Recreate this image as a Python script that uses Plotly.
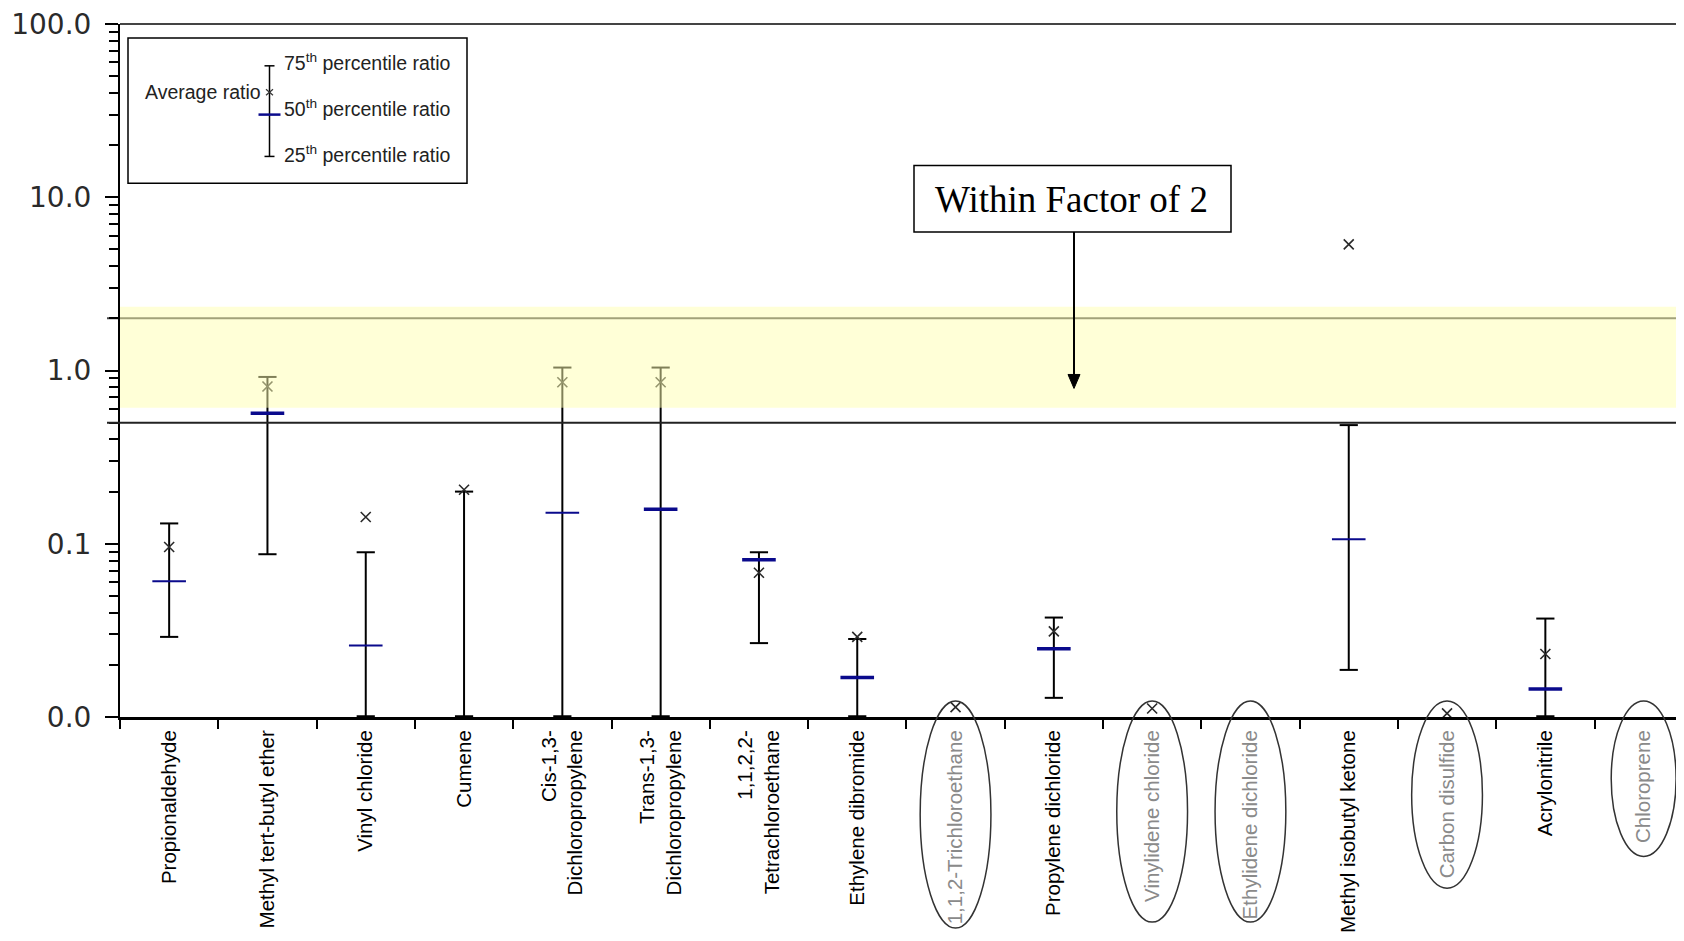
import math
import plotly.graph_objects as go

# ---------------- data ----------------
categories = [
    "Propionaldehyde", "Methyl tert-butyl ether", "Vinyl chloride", "Cumene",
    "Cis-1,3-Dichloropropylene", "Trans-1,3-Dichloropropylene", "1,1,2,2-Tetrachloroethane",
    "Ethylene dibromide", "1,1,2-Trichloroethane", "Propylene dichloride", "Vinylidene chloride",
    "Ethylidene dichloride", "Methyl isobutyl ketone", "Carbon disulfide", "Acrylonitrile", "Chloroprene",
]
tick_labels = [
    "Propionaldehyde", "Methyl tert-butyl ether", "Vinyl chloride", "Cumene",
    "Cis-1,3-<br>Dichloropropylene", "Trans-1,3-<br>Dichloropropylene", "1,1,2,2-<br>Tetrachloroethane",
    "Ethylene dibromide", "1,1,2-Trichloroethane", "Propylene dichloride", "Vinylidene chloride",
    "Ethylidene dichloride", "Methyl isobutyl ketone", "Carbon disulfide", "Acrylonitrile", "Chloroprene",
]
circled = [False, False, False, False, False, False, False, False,
           True, False, True, True, False, True, False, True]

p25 = [0.029, 0.087, 0.0101, 0.0101, 0.0101, 0.0101, 0.0267, 0.0101,
       None, 0.0129, None, None, 0.0187, None, 0.0101, None]
p75 = [0.131, 0.918, 0.0893, 0.200, 1.04, 1.04, 0.0893, 0.0282,
       None, 0.0375, None, None, 0.484, None, 0.037, None]
p50 = [0.0608, 0.567, 0.0259, None, 0.151, 0.158, 0.0808, 0.0169,
       None, 0.0248, None, None, 0.106, None, 0.0145, None]
avg = [0.0958, 0.808, 0.1426, 0.205, 0.855, 0.855, 0.068, 0.029,
       0.0114, 0.0312, 0.0112, None, 5.35, 0.0105, 0.0231, None]

y_tickvals = [0.01, 0.1, 1, 10, 100]
y_ticktext = ["0.0", "0.1", "1.0", "10.0", "100.0"]

band_low, band_high = 0.61, 2.33
line_upper, line_lower = 2.0, 0.5

# ---------------- layout geometry ----------------
# the page body has an 8px margin; positions below are page pixels
BODY = 8
W, H = 1684 - 2 * BODY, 941 - 2 * BODY
PLOT_L, PLOT_T, PLOT_B = 120, 24, 720          # page px
ML, MT = PLOT_L - BODY, PLOT_T - BODY
MB = H - (PLOT_B - BODY)
MR = 0
PW, PH = W - ML - MR, H - MT - MB
CAT_W = 98.3
x_span = PW / CAT_W
x_range = [-0.5, -0.5 + x_span]
YMIN, YMAX = -2, 2


def px_x(px):
    return (px - PLOT_L) / PW


def px_y(py):
    return (PLOT_B - py) / PH


def val_y(v):
    return (math.log10(v) - YMIN) / (YMAX - YMIN)


def cat_x(i):
    return (i + 0.5) / x_span


fig = go.Figure()

# whiskers
wx, wy = [], []
for c, lo, hi in zip(categories, p25, p75):
    if lo is not None and hi is not None:
        wx += [c, c, None]
        wy += [lo, hi, None]
fig.add_trace(go.Scatter(x=wx, y=wy, mode="lines", line=dict(color="black", width=2),
                         cliponaxis=False, hoverinfo="skip", showlegend=False))

# caps
cx = [c for c, v in zip(categories, p25) if v is not None] + \
     [c for c, v in zip(categories, p75) if v is not None]
cy = [v for v in p25 if v is not None] + [v for v in p75 if v is not None]
fig.add_trace(go.Scatter(x=cx, y=cy, mode="markers", cliponaxis=False,
                         marker=dict(symbol="line-ew", size=13, color="black",
                                     line=dict(color="black", width=2)),
                         hoverinfo="skip", showlegend=False))

# medians
thick = {1, 5, 6, 7, 9, 14}
mx = [c for c, v in zip(categories, p50) if v is not None]
my = [v for v in p50 if v is not None]
mw = [3.5 if i in thick else 2 for i, v in enumerate(p50) if v is not None]
fig.add_trace(go.Scatter(x=mx, y=my, mode="markers", cliponaxis=False,
                         marker=dict(symbol="line-ew", size=24, color="#0a0a8c",
                                     line=dict(color="#0a0a8c", width=mw)),
                         hoverinfo="skip", showlegend=False))

# averages
ax_ = [c for c, v in zip(categories, avg) if v is not None]
ay_ = [v for v in avg if v is not None]
fig.add_trace(go.Scatter(x=ax_, y=ay_, mode="markers", cliponaxis=False,
                         marker=dict(symbol="x-thin-open", size=10, color="#2a2a2a",
                                     line=dict(color="#2a2a2a", width=1.6)),
                         hoverinfo="skip", showlegend=False))

shapes = []
# reference lines (extend left of the axis)
shapes.append(dict(type="line", xref="paper", yref="paper", x0=px_x(107), x1=1.01,
                   y0=val_y(line_upper), y1=val_y(line_upper), line=dict(color="#444444", width=2), layer="below"))
shapes.append(dict(type="line", xref="paper", yref="paper", x0=px_x(107), x1=1.01,
                   y0=val_y(line_lower), y1=val_y(line_lower), line=dict(color="#222222", width=2), layer="above"))
# yellow band drawn over the marks
shapes.append(dict(type="rect", xref="paper", yref="paper", x0=0, x1=1.01,
                   y0=val_y(band_low), y1=val_y(band_high), fillcolor="rgba(255,255,175,0.5)",
                   line=dict(width=0), layer="above"))
# top border
shapes.append(dict(type="line", xref="paper", yref="paper", x0=0, x1=1.01, y0=1, y1=1,
                   line=dict(color="#444444", width=2)))

# ellipses round the grey labels
ellipse_bottom = {8: 932, 10: 926, 11: 926, 13: 892, 15: 860}
for i, flag in enumerate(circled):
    if flag:
        half = 0.36 if i < 15 else 0.33
        shapes.append(dict(type="circle", xref="paper", yref="paper",
                           x0=cat_x(i) - half / x_span, x1=cat_x(i) + half / x_span,
                           y0=px_y(ellipse_bottom[i]), y1=px_y(704),
                           line=dict(color="#333333", width=1.5)))

# legend box
shapes.append(dict(type="rect", xref="paper", yref="paper", x0=px_x(128), x1=px_x(467),
                   y0=px_y(184), y1=px_y(38), line=dict(color="black", width=1.5), fillcolor="white"))
lx = 269.5
shapes.append(dict(type="line", xref="paper", yref="paper", x0=px_x(lx), x1=px_x(lx),
                   y0=px_y(157), y1=px_y(66), line=dict(color="black", width=1.5)))
for yy in (66, 157):
    shapes.append(dict(type="line", xref="paper", yref="paper", x0=px_x(lx - 5), x1=px_x(lx + 5),
                       y0=px_y(yy), y1=px_y(yy), line=dict(color="black", width=1.5)))
shapes.append(dict(type="line", xref="paper", yref="paper", x0=px_x(lx - 11), x1=px_x(lx + 11),
                   y0=px_y(115), y1=px_y(115), line=dict(color="#0a0a8c", width=2.5)))
for d in (1, -1):
    shapes.append(dict(type="line", xref="paper", yref="paper", x0=px_x(lx - 3.5), x1=px_x(lx + 3.5),
                       y0=px_y(92.5 - 3 * d), y1=px_y(92.5 + 3 * d), line=dict(color="#333333", width=1.2)))

# "Within Factor of 2" box and arrow
shapes.append(dict(type="rect", xref="paper", yref="paper", x0=px_x(914), x1=px_x(1231),
                   y0=px_y(233), y1=px_y(166), line=dict(color="black", width=1.5), fillcolor="white"))
ARX, AR_TOP, AR_TIP = 1074, 233, 390
shapes.append(dict(type="line", xref="paper", yref="paper", x0=px_x(ARX), x1=px_x(ARX),
                   y0=px_y(AR_TOP), y1=px_y(AR_TIP - 12), line=dict(color="black", width=2)))
shapes.append(dict(type="path", xref="paper", yref="paper",
                   path=f"M {px_x(ARX - 6)} {px_y(AR_TIP - 14)} L {px_x(ARX + 6)} {px_y(AR_TIP - 14)} "
                        f"L {px_x(ARX)} {px_y(AR_TIP)} Z",
                   fillcolor="black", line=dict(color="black", width=1)))

annotations = []
leg_font = dict(family="Arial, Liberation Sans, sans-serif", size=19.5, color="#222222")
annotations.append(dict(xref="paper", yref="paper", x=px_x(263), y=px_y(92), text="Average ratio",
                        showarrow=False, xanchor="right", yanchor="middle", font=leg_font))
for txt, yy in (("75<sup>th</sup> percentile ratio", 62),
                ("50<sup>th</sup> percentile ratio", 108),
                ("25<sup>th</sup> percentile ratio", 155)):
    annotations.append(dict(xref="paper", yref="paper", x=px_x(282), y=px_y(yy), text=txt,
                            showarrow=False, xanchor="left", yanchor="middle", font=leg_font))

annotations.append(dict(xref="paper", yref="paper", x=px_x(1071), y=px_y(200), text="Within Factor of 2",
                        showarrow=False, xanchor="center", yanchor="middle",
                        font=dict(family="Liberation Serif, Times New Roman, serif", size=37, color="black")))

ticktext = [f'<span style="color:#8a8a8a">{t}</span>' if c else t for t, c in zip(tick_labels, circled)]

minor_vals = [k * 10 ** e for e in range(-2, 2) for k in range(2, 10)]

fig.update_layout(
    width=W, height=H,
    margin=dict(l=ML, r=MR, t=MT, b=MB, pad=0),
    paper_bgcolor="white", plot_bgcolor="white",
    shapes=shapes, annotations=annotations,
    showlegend=False,
    xaxis=dict(type="category", categoryorder="array", categoryarray=categories,
               range=x_range, tickmode="array", tickvals=categories, ticktext=ticktext,
               tickangle=-90, tickson="boundaries", ticks="outside", ticklen=9, tickwidth=2,
               tickcolor="black", showline=True, linecolor="black", linewidth=3,
               showgrid=False, zeroline=False, ticklabelstandoff=2,
               tickfont=dict(family="Arial, Liberation Sans, sans-serif", size=20.5, color="black")),
    yaxis=dict(type="log", range=[YMIN, YMAX], tickmode="array", tickvals=y_tickvals, ticktext=y_ticktext,
               ticks="outside", ticklen=13, tickwidth=1.5, tickcolor="black",
               showline=True, linecolor="black", linewidth=2, showgrid=False, zeroline=False,
               ticklabelstandoff=8, ticklabeloverflow="allow",
               minor=dict(tickvals=minor_vals, ticks="outside", ticklen=9, tickwidth=1.5,
                          tickcolor="black", showgrid=False),
               tickfont=dict(family="DejaVu Sans, sans-serif", size=28, color="#2a2a2a")),
)

fig.write_html("out.html")
